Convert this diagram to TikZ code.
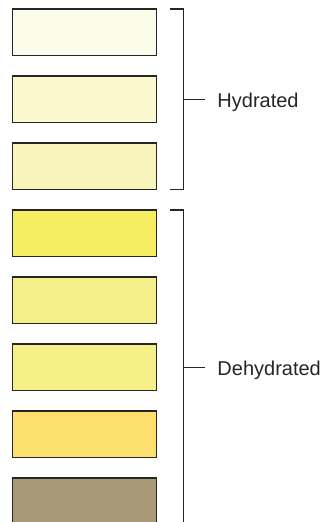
\documentclass[tikz,border=0pt]{standalone}
\usepackage{fontspec}
\setmainfont{Liberation Sans}
\usetikzlibrary{positioning, calc}
\usepackage{xcolor}
\definecolor{inkdark}{HTML}{262626}
\definecolor{urineA}{HTML}{FCFCEB}
\definecolor{urineB}{HTML}{FBF8CE}
\definecolor{urineC}{HTML}{F8F5BC}
\definecolor{urineD}{HTML}{F5EE62}
\definecolor{urineE}{HTML}{F5F08A}
\definecolor{urineF}{HTML}{F5F088}
\definecolor{urineG}{HTML}{FCE06E}
\definecolor{urineH}{HTML}{A89A76}

\begin{document}
\begin{tikzpicture}[x=1pt, y=-1pt,
    swatch/.style={draw=inkdark, line width=1.2pt, minimum width=144.5pt, minimum height=46.5pt, inner sep=0pt, outer sep=0pt},
    bracket/.style={draw=inkdark, line width=1.1pt},
    tag/.style={text=inkdark, inner sep=0pt, font=\fontsize{20}{24}\selectfont}]
    % Fix the page to the size of the reference
    \path[use as bounding box, clip] (0,0) rectangle (326,522);

    % Colour swatches, top to bottom
    \node[swatch, fill=urineA] (s1) at (84.5,32.25) {};
    \node[swatch, fill=urineB, below=20.5pt of s1] (s2) {};
    \node[swatch, fill=urineC, below=20.5pt of s2] (s3) {};
    \node[swatch, fill=urineD, below=20.5pt of s3] (s4) {};
    \node[swatch, fill=urineE, below=20.5pt of s4] (s5) {};
    \node[swatch, fill=urineF, below=20.5pt of s5] (s6) {};
    \node[swatch, fill=urineG, below=20.5pt of s6] (s7) {};
    \node[swatch, fill=urineH, below=20.5pt of s7] (s8) {};

    % Bracket over the hydrated swatches
    \draw[bracket] ([xshift=13pt]s1.north east) -- ([xshift=26.5pt]s1.north east)
        -- ([xshift=26.5pt]s3.south east) -- ([xshift=13pt]s3.south east);
    \coordinate (hmid) at ($([xshift=26.5pt]s1.north east)!0.5!([xshift=26.5pt]s3.south east)$);
    \node[tag, anchor=base west] (hyd) at ($(hmid)+(34,8)$) {Hydrated};
    \draw[bracket, shorten >=12pt] (hmid) -- (hmid -| hyd.west); % Middle tick

    % Bracket over the dehydrated swatches
    \draw[bracket] ([xshift=13pt]s4.north east) -- ([xshift=26.5pt]s4.north east)
        -- ([xshift=26.5pt]s8.south east) -- ([xshift=13pt]s8.south east);
    \coordinate (dmid) at ($([xshift=26.5pt]s4.north east)!0.5!([xshift=26.5pt]s8.south east)$);
    \node[tag, anchor=base west] (dehyd) at ($(dmid)+(34,8)$) {Dehydrated};
    \draw[bracket, shorten >=12pt] (dmid) -- (dmid -| dehyd.west); % Middle tick
\end{tikzpicture}
\end{document}
